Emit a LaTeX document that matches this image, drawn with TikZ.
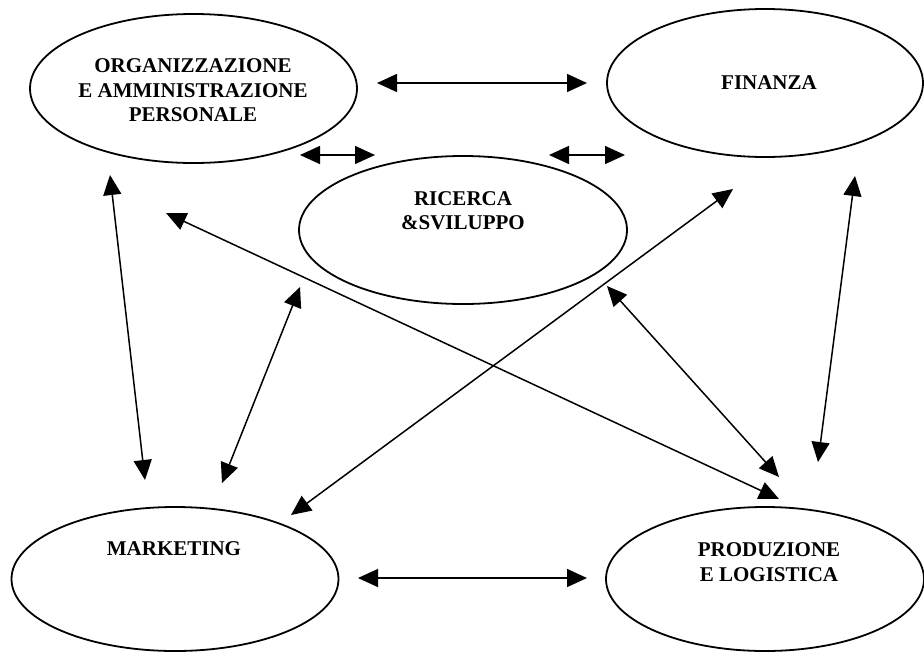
\documentclass[tikz,border=0pt]{standalone}
\usepackage{fontspec}
\setmainfont{Liberation Serif}
\usetikzlibrary{shapes.geometric,arrows.meta}
\begin{document}
\begin{tikzpicture}[x=1pt,y=-1pt,
  bubble/.style={draw, ellipse, line width=1.8pt, inner sep=0pt},
  lbl/.style={font=\fontsize{21}{24.5}\selectfont\bfseries, align=center, inner sep=0pt},
  link/.style={line width=1.5pt, {Triangle[length=20pt,width=18pt]}-{Triangle[length=20pt,width=18pt]}}]
\useasboundingbox (0,0) rectangle (924,651);
% ellipses
\node[bubble, minimum width=327pt, minimum height=149pt] (org) at (193.5,88.5) {};
\node[bubble, minimum width=316pt, minimum height=148pt] (fin) at (765,83) {};
\node[bubble, minimum width=328pt, minimum height=148pt] (ric) at (463,230) {};
\node[bubble, minimum width=327pt, minimum height=144pt] (mkt) at (175,579) {};
\node[bubble, minimum width=318pt, minimum height=144pt] (prd) at (765,579) {};
% labels
\node[lbl] (orgt) at (193,90.5) {ORGANIZZAZIONE\\E AMMINISTRAZIONE\\PERSONALE};
\node[lbl] (fint) at (769,83) {FINANZA};
\node[lbl] (rict) at (463,210.5) {RICERCA\\\&SVILUPPO};
\node[lbl] (mktt) at (174,549) {MARKETING};
\node[lbl] (prdt) at (769,562) {PRODUZIONE\\E LOGISTICA};
% connector ends
\coordinate (a1s) at (377,83);  \coordinate (a1e) at (587,83);
\coordinate (a2s) at (300,155); \coordinate (a2e) at (375,155);
\coordinate (a3s) at (549,155); \coordinate (a3e) at (625,155);
\coordinate (a4s) at (110,175); \coordinate (a4e) at (145,480);
\coordinate (a5s) at (300,287); \coordinate (a5e) at (222,483);
\coordinate (a6s) at (166,213); \coordinate (a6e) at (779,499);
\coordinate (a7s) at (733,189); \coordinate (a7e) at (291,515);
\coordinate (a8s) at (607,286); \coordinate (a8e) at (779,477);
\coordinate (a9s) at (855,176); \coordinate (a9e) at (818,462);
\coordinate (a10s) at (358,578); \coordinate (a10e) at (587,578);
% connectors
\draw[link] (a1s) -- (a1e);
\draw[link] (a2s) -- (a2e);
\draw[link] (a3s) -- (a3e);
\draw[link] (a4s) -- (a4e);
\draw[link] (a5s) -- (a5e);
\draw[link] (a6s) -- (a6e);
\draw[link] (a7s) -- (a7e);
\draw[link] (a8s) -- (a8e);
\draw[link] (a9s) -- (a9e);
\draw[link] (a10s) -- (a10e);
\end{tikzpicture}
\end{document}
